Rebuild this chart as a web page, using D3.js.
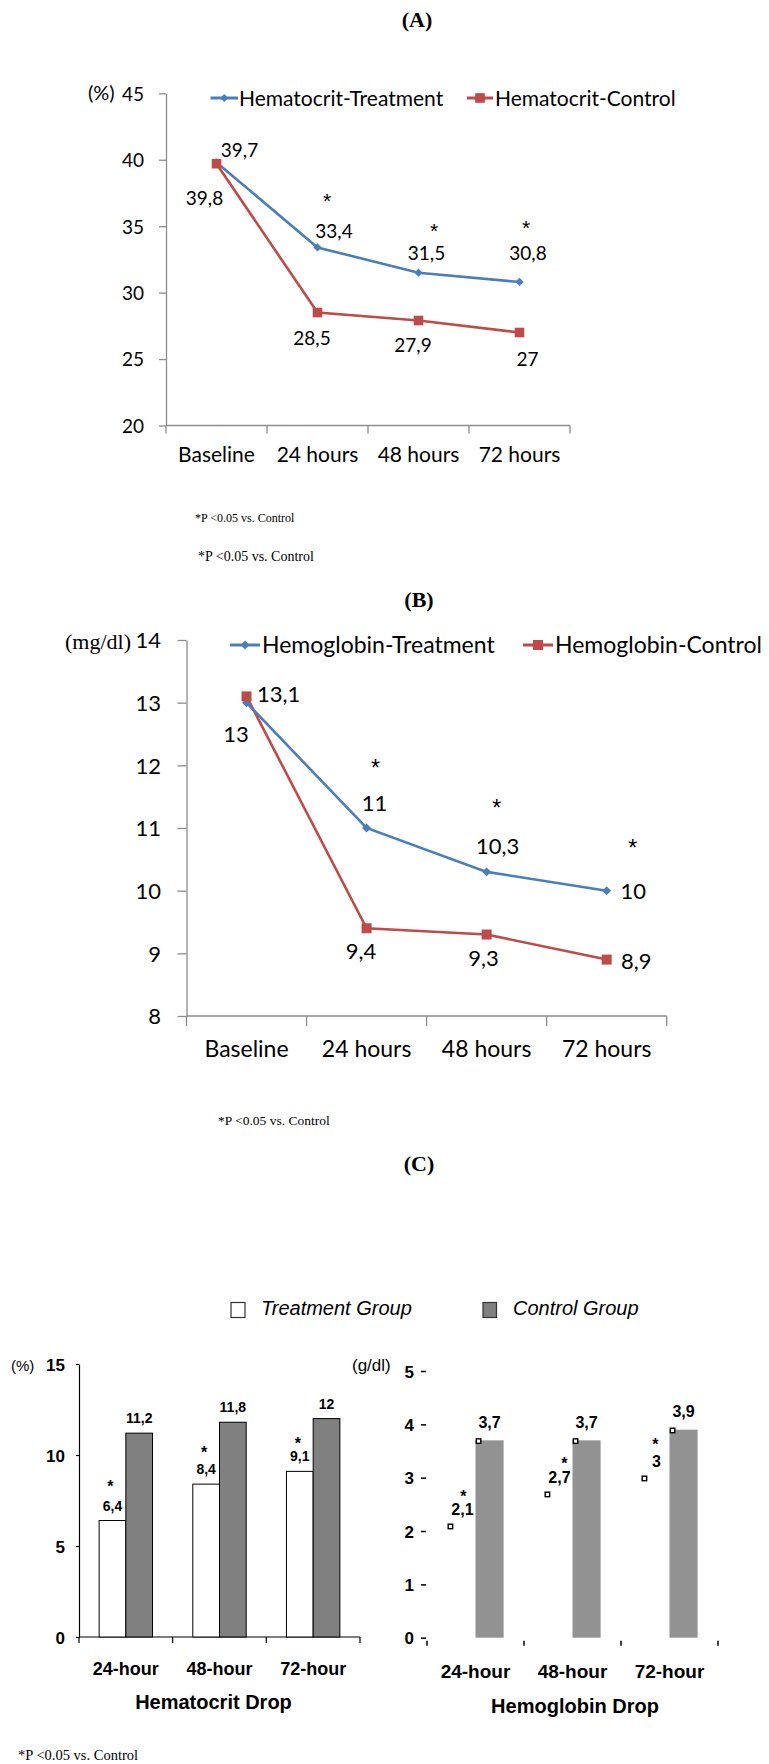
<!DOCTYPE html>
<html>
<head>
<meta charset="utf-8">
<script src="https://cdn.jsdelivr.net/npm/d3@7"></script>
<style>
  body { margin: 0; background: #fff; }
  svg { display: block; }
</style>
</head>
<body>
<svg id="chart" width="769" height="1764"></svg>
<script>
// ---------------- DATA ----------------
const timeCategories = ["Baseline", "24 hours", "48 hours", "72 hours"];
const hctTreatment = [39.8, 33.4, 31.5, 30.8];
const hctControl = [39.7, 28.5, 27.9, 27];
const hctTicks = [20, 25, 30, 35, 40, 45];
const hctSignificant = [false, true, true, true];

const hgbTreatment = [13, 11, 10.3, 10];
const hgbControl = [13.1, 9.4, 9.3, 8.9];
const hgbTicks = [8, 9, 10, 11, 12, 13, 14];
const hgbSignificant = [false, true, true, true];

const dropCategories = ["24-hour", "48-hour", "72-hour"];
const groupNames = ["Treatment Group", "Control Group"];
const hctDropTreatment = [6.4, 8.4, 9.1];
const hctDropControl = [11.2, 11.8, 12];
const hctDropTicks = [0, 5, 10, 15];
const hgbDropTreatment = [2.1, 2.7, 3];
const hgbDropControl = [3.7, 3.7, 3.9];
const hgbDropTicks = [0, 1, 2, 3, 4, 5];
const dropSignificant = [true, true, true];

// ---------------- STYLE / LAYOUT ----------------
const BLUE = "#4A7EBB", RED = "#BE4B48", AXIS = "#8C8C8C";
const SANS = "Lato, 'Open Sans', sans-serif";
const SERIF = "'Liberation Serif', 'Times New Roman', serif";
const ARIAL = "'Liberation Sans', Arial, sans-serif";
const fmt = v => String(v).replace(".", ",");

// label nudges (pixels, relative to the data point)
const hctTNudge = [[-12, 36], [16.5, -16], [8, -20], [8.5, -29]];
const hctCNudge = [[23, -14], [-5.5, 25.6], [-5.5, 24.6], [8, 27]];
const hctStarNudge = [null, [9.5, -52], [15.5, -47], [6.5, -59]];
const hgbTNudge = [[-10.5, 31], [8, -25], [11, -25.6], [26.5, 0]];
const hgbCNudge = [[32, -2.5], [-5.5, 22.5], [-3, 23.4], [29.5, 1]];
const hgbStarNudge = [null, [9, -65.5], [10, -69.6], [26, -48]];

const svg = d3.select("#chart");
svg.append("rect").attr("width", 769).attr("height", 1764).attr("fill", "#fff");

function text(x, y, str, o = {}) {
  return svg.append("text")
    .attr("x", x).attr("y", y)
    .attr("font-family", o.family || SANS)
    .attr("font-size", o.size || 16)
    .attr("font-weight", o.weight || "normal")
    .attr("font-style", o.style || "normal")
    .attr("text-anchor", o.anchor || "start")
    .attr("fill", "#000")
    .text(str);
}

// panel titles
text(417, 27, "(A)", {family: SERIF, size: 22, weight: "bold", anchor: "middle"});
text(419, 607, "(B)", {family: SERIF, size: 22, weight: "bold", anchor: "middle"});
text(419, 1171, "(C)", {family: SERIF, size: 22, weight: "bold", anchor: "middle"});

// footnotes
text(195, 522, "*P <0.05 vs. Control", {family: SERIF, size: 12});
text(198, 560.5, "*P <0.05 vs. Control", {family: SERIF, size: 14});
text(218, 1125, "*P <0.05 vs. Control", {family: SERIF, size: 13.5});
text(18, 1760, "*P <0.05 vs. Control", {family: SERIF, size: 14.5});

// ---------------- LINE CHARTS ----------------
function lineChart(cfg) {
  const g = svg.append("g");
  const xb = d3.scaleBand().domain(cfg.cats).range([cfg.left, cfg.right]);
  const xc = c => xb(c) + xb.bandwidth() / 2;
  const y = d3.scaleLinear()
    .domain([cfg.ticks[0], cfg.ticks[cfg.ticks.length - 1]])
    .range([cfg.bottom, cfg.top]);

  // y axis
  const ya = g.append("g").attr("transform", `translate(${cfg.left},0)`)
    .call(d3.axisLeft(y).tickValues(cfg.ticks).tickSizeInner(cfg.tickLen)
      .tickSizeOuter(0).tickPadding(cfg.yPad).tickFormat(d => d));
  ya.select(".domain").attr("stroke", AXIS).attr("stroke-width", 1.3);
  ya.selectAll(".tick line").attr("stroke", AXIS).attr("stroke-width", 1.3);
  ya.selectAll(".tick text").attr("font-family", SANS).attr("font-size", cfg.tickFs)
    .attr("fill", "#000").attr("dy", "0.36em");

  // x axis
  const xa = g.append("g").attr("transform", `translate(0,${cfg.bottom})`)
    .call(d3.axisBottom(xb).tickSize(0).tickPadding(cfg.xPad));
  xa.select(".domain").remove();
  xa.selectAll(".tick text").attr("font-family", SANS).attr("font-size", cfg.xFs).attr("fill", "#000");
  g.append("line").attr("x1", cfg.left).attr("x2", cfg.right)
    .attr("y1", cfg.bottom).attr("y2", cfg.bottom)
    .attr("stroke", AXIS).attr("stroke-width", 1.3);
  const bounds = [cfg.left].concat(cfg.cats.map(c => xb(c) + xb.bandwidth()));
  g.selectAll(".xb").data(bounds).enter().append("line")
    .attr("x1", d => d).attr("x2", d => d)
    .attr("y1", cfg.bottom).attr("y2", cfg.bottom + cfg.tickLen + 1)
    .attr("stroke", AXIS).attr("stroke-width", 1.3);

  // unit label
  text(cfg.unitX, cfg.unitY, cfg.unit, {family: cfg.unitFamily, size: cfg.unitFs});

  const line = d3.line().x((d, i) => xc(cfg.cats[i])).y(d => y(d));
  const diamond = d3.symbol(d3.symbolSquare).size(cfg.diamondSize);
  const square = d3.symbol(d3.symbolSquare).size(cfg.squareSize);

  g.append("path").datum(cfg.control).attr("d", line)
    .attr("fill", "none").attr("stroke", RED).attr("stroke-width", 2.6);
  g.append("path").datum(cfg.treatment).attr("d", line)
    .attr("fill", "none").attr("stroke", BLUE).attr("stroke-width", 2.6);
  g.selectAll(".mt").data(cfg.treatment).enter().append("path")
    .attr("d", diamond)
    .attr("transform", (d, i) => `translate(${xc(cfg.cats[i])},${y(d)}) rotate(45)`)
    .attr("fill", BLUE);
  g.selectAll(".mc").data(cfg.control).enter().append("path")
    .attr("d", square)
    .attr("transform", (d, i) => `translate(${xc(cfg.cats[i])},${y(d)})`)
    .attr("fill", RED);

  // data labels
  const lab = (vals, nudge) => g.selectAll(null).data(vals).enter().append("text")
    .attr("x", (d, i) => xc(cfg.cats[i]) + nudge[i][0])
    .attr("y", (d, i) => y(d) + nudge[i][1])
    .attr("dy", "0.36em").attr("text-anchor", "middle")
    .attr("font-family", SANS).attr("font-size", cfg.labelFs)
    .text(d => fmt(d));
  lab(cfg.treatment, cfg.tNudge);
  lab(cfg.control, cfg.cNudge);
  cfg.treatment.forEach((d, i) => {
    if (!cfg.sig[i]) return;
    g.append("text")
      .attr("x", xc(cfg.cats[i]) + cfg.starNudge[i][0])
      .attr("y", y(d) + cfg.starNudge[i][1])
      .attr("dy", "0.58em").attr("text-anchor", "middle")
      .attr("font-family", ARIAL).attr("font-size", cfg.starFs)
      .text("*");
  });

  // legend
  cfg.legend.forEach((L, k) => {
    const col = k === 0 ? BLUE : RED;
    g.append("line").attr("x1", L.x0).attr("x2", L.x1).attr("y1", cfg.legendY).attr("y2", cfg.legendY)
      .attr("stroke", col).attr("stroke-width", 3);
    g.append("path").attr("d", k === 0 ? diamond : square)
      .attr("transform", `translate(${(L.x0 + L.x1) / 2},${cfg.legendY})` + (k === 0 ? " rotate(45)" : ""))
      .attr("fill", col);
    g.append("text").attr("x", L.tx).attr("y", cfg.legendY).attr("dy", "0.36em")
      .attr("font-family", SANS).attr("font-size", cfg.legendFs).text(L.label);
  });
}

lineChart({
  cats: timeCategories, treatment: hctTreatment, control: hctControl, ticks: hctTicks, sig: hctSignificant,
  left: 166, right: 570, top: 93.3, bottom: 425.5,
  tickLen: 7, yPad: 15, xPad: 22, tickFs: 19, xFs: 21, labelFs: 19, legendFs: 21, starFs: 21,
  unit: "(%)", unitX: 88, unitY: 100, unitFs: 20, unitFamily: SANS,
  diamondSize: 34, squareSize: 92,
  tNudge: hctTNudge, cNudge: hctCNudge, starNudge: hctStarNudge,
  legendY: 98,
  legend: [
    {x0: 210.5, x1: 238, tx: 239, label: "Hematocrit-Treatment"},
    {x0: 467, x1: 493, tx: 495, label: "Hematocrit-Control"}
  ]
});

lineChart({
  cats: timeCategories, treatment: hgbTreatment, control: hgbControl, ticks: hgbTicks, sig: hgbSignificant,
  left: 186.5, right: 666.7, top: 640, bottom: 1016,
  tickLen: 9, yPad: 16.5, xPad: 24.5, tickFs: 22, xFs: 23, labelFs: 22, legendFs: 23, starFs: 23,
  unit: "(mg/dl)", unitX: 65, unitY: 649, unitFs: 22, unitFamily: SERIF,
  diamondSize: 40, squareSize: 100,
  tNudge: hgbTNudge, cNudge: hgbCNudge, starNudge: hgbStarNudge,
  legendY: 645,
  legend: [
    {x0: 230, x1: 260, tx: 262, label: "Hemoglobin-Treatment"},
    {x0: 523, x1: 553, tx: 555, label: "Hemoglobin-Control"}
  ]
});

// ---------------- BAR CHARTS (C) ----------------
// legend
svg.append("rect").attr("x", 231).attr("y", 1302.5).attr("width", 14).attr("height", 15)
  .attr("fill", "#fff").attr("stroke", "#333").attr("stroke-width", 1.2);
text(261, 1315, groupNames[0], {family: ARIAL, size: 20, style: "italic"});
svg.append("rect").attr("x", 483).attr("y", 1302.5).attr("width", 13.5).attr("height", 15)
  .attr("fill", "#808080").attr("stroke", "#333").attr("stroke-width", 1.2);
text(513, 1315, groupNames[1], {family: ARIAL, size: 20, style: "italic"});

// left: Hematocrit drop
(function () {
  const cfg = {left: 79, right: 360, top: 1364, bottom: 1637};
  const g = svg.append("g");
  const x0 = d3.scaleBand().domain(dropCategories).range([cfg.left, cfg.right])
    .paddingInner(0.43).paddingOuter(0.215);
  const x1 = d3.scaleBand().domain([0, 1]).range([0, x0.bandwidth()]);
  const y = d3.scaleLinear().domain([0, 15]).range([cfg.bottom, cfg.top]);

  const ya = g.append("g").attr("transform", `translate(${cfg.left},0)`)
    .call(d3.axisLeft(y).tickValues(hctDropTicks).tickFormat(d => d)
      .tickSizeInner(3).tickSizeOuter(0).tickPadding(11));
  ya.select(".domain").attr("stroke", "#000").attr("stroke-width", 1.2);
  ya.selectAll(".tick line").attr("stroke", "#000").attr("stroke-width", 1.2);
  ya.selectAll(".tick text").attr("font-family", ARIAL).attr("font-weight", "bold")
    .attr("font-size", 17).attr("fill", "#000").attr("dy", "0.36em");

  g.append("line").attr("x1", cfg.left).attr("x2", cfg.right).attr("y1", cfg.bottom).attr("y2", cfg.bottom)
    .attr("stroke", "#000").attr("stroke-width", 1.2);
  const bounds = [cfg.left].concat(dropCategories.map(c => x0(c) - x0.step() * 0.215 + x0.step()));
  g.selectAll(null).data(bounds).enter().append("line")
    .attr("x1", d => d).attr("x2", d => d).attr("y1", cfg.bottom).attr("y2", cfg.bottom + 6)
    .attr("stroke", "#000").attr("stroke-width", 1.2);

  const xa = g.append("g").attr("transform", `translate(0,${cfg.bottom})`)
    .call(d3.axisBottom(x0).tickSize(0).tickPadding(25));
  xa.select(".domain").remove();
  xa.selectAll(".tick text").attr("font-family", ARIAL).attr("font-weight", "bold")
    .attr("font-size", 18).attr("fill", "#000");

  text(11, 1370.5, "(%)", {family: ARIAL, size: 15});
  text((cfg.left + cfg.right) / 2 - 6, 1708.5, "Hematocrit Drop", {family: ARIAL, size: 20, weight: "bold", anchor: "middle"});

  const series = [hctDropTreatment, hctDropControl];
  series.forEach((vals, s) => {
    g.selectAll(null).data(vals).enter().append("rect")
      .attr("x", (d, i) => x0(dropCategories[i]) + x1(s))
      .attr("y", d => y(d))
      .attr("width", x1.bandwidth())
      .attr("height", d => cfg.bottom - y(d))
      .attr("fill", s === 0 ? "#fff" : "#808080")
      .attr("stroke", "#000").attr("stroke-width", 1);
    g.selectAll(null).data(vals).enter().append("text")
      .attr("x", (d, i) => x0(dropCategories[i]) + x1(s) + x1.bandwidth() / 2)
      .attr("y", d => y(d) - 15).attr("dy", "0.36em")
      .attr("text-anchor", "middle").attr("font-family", ARIAL).attr("font-weight", "bold")
      .attr("font-size", 14).text(d => fmt(d));
  });
  const starDy = [-38, -35, -32];
  hctDropTreatment.forEach((d, i) => {
    if (!dropSignificant[i]) return;
    g.append("text")
      .attr("x", x0(dropCategories[i]) + x1(0) + x1.bandwidth() / 2 - 2)
      .attr("y", y(d) + starDy[i]).attr("dy", "0.58em")
      .attr("text-anchor", "middle").attr("font-family", ARIAL).attr("font-weight", "bold")
      .attr("font-size", 16).text("*");
  });
})();

// right: Hemoglobin drop
(function () {
  const cfg = {left: 427, right: 718, top: 1371, bottom: 1637.7};
  const g = svg.append("g");
  const x0 = d3.scaleBand().domain(dropCategories).range([cfg.left, cfg.right])
    .paddingInner(0.42).paddingOuter(0.21);
  const x1 = d3.scaleBand().domain([0, 1]).range([0, x0.bandwidth()]);
  const y = d3.scaleLinear().domain([0, 5]).range([cfg.bottom, cfg.top]);

  // y ticks (no axis line)
  const ya = g.append("g").attr("transform", `translate(${cfg.left - 1},0)`)
    .call(d3.axisLeft(y).tickValues(hgbDropTicks).tickFormat(d => d)
      .tickSizeInner(5).tickSizeOuter(0).tickPadding(7));
  ya.select(".domain").remove();
  ya.selectAll(".tick line").attr("stroke", "#000").attr("stroke-width", 1.5);
  ya.selectAll(".tick text").attr("font-family", ARIAL).attr("font-weight", "bold")
    .attr("font-size", 17).attr("fill", "#000").attr("dy", "0.36em");

  const bounds = [cfg.left].concat(dropCategories.map(c => x0(c) - x0.step() * 0.21 + x0.step()));
  g.selectAll(null).data(bounds).enter().append("line")
    .attr("x1", d => d).attr("x2", d => d).attr("y1", cfg.bottom + 3).attr("y2", cfg.bottom + 8)
    .attr("stroke", "#000").attr("stroke-width", 1.5);

  const xa = g.append("g").attr("transform", `translate(0,${cfg.bottom})`)
    .call(d3.axisBottom(x0).tickSize(0).tickPadding(27));
  xa.select(".domain").remove();
  xa.selectAll(".tick text").attr("font-family", ARIAL).attr("font-weight", "bold")
    .attr("font-size", 19).attr("fill", "#000");

  text(352, 1371, "(g/dl)", {family: ARIAL, size: 17});
  text(575, 1713, "Hemoglobin Drop", {family: ARIAL, size: 20, weight: "bold", anchor: "middle"});

  const series = [hgbDropTreatment, hgbDropControl];
  series.forEach((vals, s) => {
    g.selectAll(null).data(vals).enter().append("rect")
      .attr("x", (d, i) => x0(dropCategories[i]) + x1(s))
      .attr("y", d => y(d))
      .attr("width", x1.bandwidth())
      .attr("height", d => cfg.bottom - y(d))
      .attr("fill", s === 0 ? "#fff" : "#929292");
    g.selectAll(null).data(vals).enter().append("rect")
      .attr("x", (d, i) => x0(dropCategories[i]) + x1(s) + 0.8)
      .attr("y", d => y(d) - 1.5)
      .attr("width", 4.5).attr("height", 4.5)
      .attr("fill", "#fff").attr("stroke", "#000").attr("stroke-width", 1.4);
    g.selectAll(null).data(vals).enter().append("text")
      .attr("x", (d, i) => x0(dropCategories[i]) + x1(s) + x1.bandwidth() / 2 + (s === 0 ? 1 : 0))
      .attr("y", d => y(d) - (s === 0 ? 16 : 18.5)).attr("dy", "0.36em")
      .attr("text-anchor", "middle").attr("font-family", ARIAL).attr("font-weight", "bold")
      .attr("font-size", 16).text(d => fmt(d));
  });
  const starNudge = [[2, -33.4], [6, -33.7], [0, -36.7]];
  hgbDropTreatment.forEach((d, i) => {
    if (!dropSignificant[i]) return;
    g.append("text")
      .attr("x", x0(dropCategories[i]) + x1(0) + x1.bandwidth() / 2 + starNudge[i][0])
      .attr("y", y(d) + starNudge[i][1]).attr("dy", "0.58em")
      .attr("text-anchor", "middle").attr("font-family", ARIAL).attr("font-weight", "bold")
      .attr("font-size", 16).text("*");
  });
})();
</script>
</body>
</html>
